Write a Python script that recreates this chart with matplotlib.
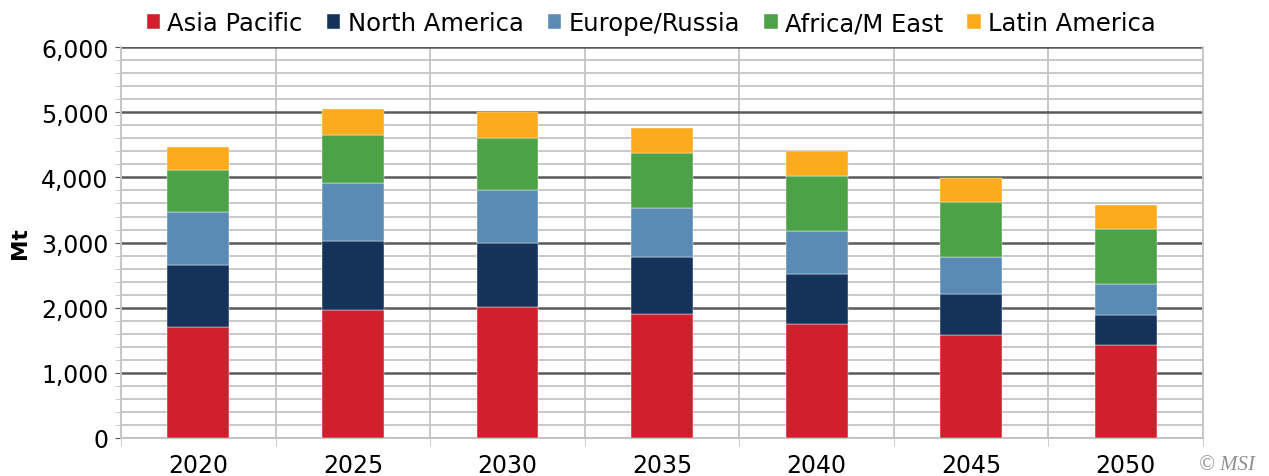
import matplotlib
matplotlib.use("Agg")
import matplotlib.pyplot as plt
import numpy as np
from matplotlib.ticker import FuncFormatter, MultipleLocator

years = ["2020", "2025", "2030", "2035", "2040", "2045", "2050"]
regions = ["Asia Pacific", "North America", "Europe/Russia", "Africa/M East", "Latin America"]
asia_pacific = [1700, 1965, 2010, 1910, 1750, 1585, 1420]
north_america = [960, 1060, 980, 870, 760, 630, 470]
europe_russia = [815, 885, 810, 755, 665, 570, 470]
africa_m_east = [645, 740, 800, 835, 845, 840, 855]
latin_america = [345, 400, 400, 385, 380, 365, 360]
colors = ["#D0202E", "#14325A", "#5B8AB5", "#4DA147", "#FBAB1B"]

series = [asia_pacific, north_america, europe_russia, africa_m_east, latin_america]

plt.rcParams["font.family"] = ["DejaVu Sans"]

fig = plt.figure(figsize=(12.69, 4.77), dpi=100)
ax = fig.add_axes([0.0954, 0.0797, 0.8526, 0.8193])

x = np.arange(len(years))
bottom = np.zeros(len(years))
for name, vals, col in zip(regions, series, colors):
    ax.bar(x, vals, width=0.40, bottom=bottom, color=col, label=name,
           edgecolor="white", linewidth=0.3, zorder=3)
    bottom += np.array(vals)

ax.set_xlim(-0.5, len(years) - 0.5)
ax.set_ylim(0, 6000)
ax.yaxis.set_major_locator(MultipleLocator(1000))
ax.yaxis.set_minor_locator(MultipleLocator(200))
ax.yaxis.set_major_formatter(FuncFormatter(lambda v, p: f"{int(v):,}"))
ax.set_xticks(x)
ax.set_xticklabels(years)
ax.set_xticks(np.arange(-0.5, len(years), 1.0), minor=True)

ax.grid(which="minor", axis="y", color="#c4c4c4", linewidth=1.3, zorder=0)
ax.grid(which="major", axis="y", color="#5a5a5a", linewidth=1.8, zorder=1)
ax.grid(which="minor", axis="x", color="#c4c4c4", linewidth=1.3, zorder=0)

for side in ["left", "right", "bottom"]:
    ax.spines[side].set_color("#c4c4c4")
    ax.spines[side].set_linewidth(1.3)
ax.spines["top"].set_visible(False)

ax.tick_params(axis="y", which="major", length=4, color="#5a5a5a", labelsize=17, pad=5)
ax.tick_params(axis="y", which="minor", length=4, color="#c4c4c4")
ax.tick_params(axis="x", which="major", length=0, labelsize=17, pad=11)
ax.tick_params(axis="x", which="minor", length=6, color="#c4c4c4")

ax.set_ylabel("Mt", fontsize=15.5, fontweight="bold", labelpad=8)

ax.legend(loc="lower center", bbox_to_anchor=(0.49, 1.0), ncol=5, frameon=False,
          fontsize=17.5, handlelength=0.55, handleheight=0.55, handletextpad=0.3,
          columnspacing=1.0, borderaxespad=0.1)

fig.text(0.989, 0.005, "© MSI", ha="right", va="bottom", fontsize=15,
         style="italic", color="#909090", family="Liberation Serif")

fig.savefig("out.png", dpi=100)
